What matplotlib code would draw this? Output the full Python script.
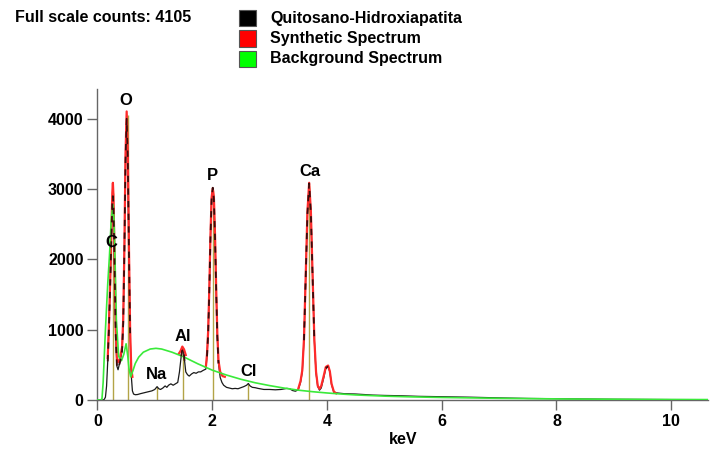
import numpy as np
import matplotlib.pyplot as plt
from matplotlib.patches import Rectangle

plt.rcParams['font.family'] = ['Liberation Sans', 'DejaVu Sans']
plt.rcParams['font.weight'] = 'bold'

# measured spectrum (keV, counts)
spec_kev = [0.00, 0.10, 0.12, 0.14, 0.16, 0.18, 0.20, 0.22, 0.24, 0.26, 0.27, 0.28, 0.30, 0.32,
            0.34, 0.36, 0.38, 0.40, 0.43, 0.45, 0.47, 0.49, 0.51, 0.53, 0.55, 0.57, 0.59, 0.61,
            0.63, 0.66, 0.70, 0.75, 0.80, 0.85, 0.90, 0.95, 1.00, 1.04, 1.07, 1.10, 1.14, 1.18,
            1.21, 1.24, 1.28, 1.32, 1.36, 1.40, 1.43, 1.46, 1.48, 1.50, 1.52, 1.54, 1.57, 1.60,
            1.64, 1.68, 1.72, 1.76, 1.80, 1.84, 1.89, 1.91, 1.93, 1.95, 1.97, 1.99, 2.01, 2.03,
            2.05, 2.07, 2.09, 2.11, 2.14, 2.17, 2.20, 2.25, 2.30, 2.35, 2.40, 2.45, 2.50, 2.55,
            2.60, 2.63, 2.66, 2.70, 2.75, 2.80, 2.90, 3.00, 3.10, 3.20, 3.30, 3.35, 3.40, 3.45,
            3.50, 3.54, 3.57, 3.60, 3.63, 3.66, 3.69, 3.72, 3.75, 3.78, 3.81, 3.84, 3.87, 3.90,
            3.94, 3.98, 4.02, 4.05, 4.08, 4.12, 4.18, 4.30, 4.50, 4.80, 5.00, 5.30, 5.60, 5.90,
            6.20, 6.50, 7.00, 7.50, 8.00, 8.50, 9.00, 9.50, 10.00, 10.65]
spec_counts = [0, 0, 10, 40, 200, 550, 1000, 1550, 2200, 2800, 2900, 2750, 1900, 900,
               480, 430, 500, 560, 700, 1100, 2100, 3400, 4000, 3400, 2100, 950, 350, 130,
               85, 75, 78, 90, 100, 110, 120, 130, 150, 190, 160, 150, 170, 200,
               180, 210, 230, 210, 230, 250, 400, 620, 720, 700, 550, 400, 360, 340,
               370, 390, 380, 400, 400, 420, 440, 620, 950, 1550, 2300, 2850, 3020, 2850,
               2300, 1550, 900, 520, 320, 250, 210, 180, 170, 160, 165, 160, 175, 190,
               210, 235, 200, 180, 175, 165, 150, 150, 145, 150, 165, 160, 135, 125,
               145, 250, 400, 850, 1750, 2650, 3080, 2650, 1750, 850, 380, 190, 140, 170,
               300, 450, 480, 400, 220, 110, 100, 90, 85, 70, 65, 60, 52, 48,
               44, 40, 30, 22, 18, 13, 10, 8, 6, 5]

# synthetic spectrum, only where it rises above the background
synth_kev = [0.18, 0.20, 0.22, 0.24, 0.26, 0.27, 0.28, 0.30, 0.32, 0.34, 0.36, 0.38, 0.40, 0.43,
             0.45, 0.47, 0.49, 0.51, 0.53, 0.55, 0.57, 0.59, 0.61, np.nan,
             1.42, 1.45, 1.48, 1.51, 1.54, np.nan,
             1.89, 1.91, 1.93, 1.95, 1.97, 1.99, 2.01, 2.03, 2.05, 2.07, 2.09, 2.11, 2.14, 2.18,
             2.22, np.nan,
             3.50, 3.54, 3.57, 3.60, 3.63, 3.66, 3.69, 3.72, 3.75, 3.78, 3.81, 3.84, 3.87, 3.90,
             3.94, 3.98, 4.02, 4.05, 4.08, 4.12, 4.16]
synth_counts = [600, 1050, 1600, 2300, 2950, 3090, 2900, 2000, 1000, 580, 540, 560, 620, 750,
                1150, 2150, 3500, 4105, 3500, 2150, 1000, 450, 330, np.nan,
                660, 700, 760, 720, 640, np.nan,
                470, 650, 980, 1580, 2330, 2880, 3010, 2880, 2330, 1580, 930, 560, 400, 340,
                330, np.nan,
                160, 270, 420, 870, 1770, 2680, 3090, 2680, 1770, 870, 400, 200, 160, 200,
                330, 470, 490, 410, 230, 120, 95]

# background
bg_kev = [0.00, 0.06, 0.08, 0.10, 0.14, 0.18, 0.21, 0.24, 0.27, 0.29, 0.31, 0.33, 0.37, 0.42,
          0.46, 0.50, 0.53, 0.55, 0.58, 0.62, 0.66, 0.72, 0.80, 0.92, 1.02, 1.12, 1.30, 1.50,
          1.75, 2.00, 2.25, 2.50, 2.75, 3.00, 3.25, 3.50, 3.75, 4.00, 4.25, 4.50, 5.00, 5.50,
          6.00, 6.50, 7.00, 7.50, 8.00, 8.50, 9.00, 9.50, 10.00, 10.65]
bg_counts = [0, 0, 20, 250, 1000, 1650, 2050, 2550, 2780, 2550, 1900, 1150, 620, 560,
             650, 800, 620, 450, 330, 420, 520, 610, 680, 725, 735, 725, 680, 615,
             515, 425, 355, 295, 245, 205, 170, 140, 118, 100, 85, 72, 55, 44,
             36, 30, 24, 20, 16, 13, 11, 9, 7, 6]

elements = ['C', 'O', 'Na', 'Al', 'P', 'Cl', 'Ca']
element_kev = [0.277, 0.525, 1.041, 1.486, 2.013, 2.622, 3.690]
element_height = [2950, 4050, 185, 730, 2990, 225, 3060]
label_pos = [(0.24, 2245), (0.50, 4255), (1.03, 369), (1.49, 908), (2.01, 3191), (2.63, 401), (3.70, 3252)]

legend_names = ['Quitosano-Hidroxiapatita', 'Synthetic Spectrum', 'Background Spectrum']
legend_colors = ['#000000', '#ff0000', '#00ff00']

W, H = 712, 451
fig = plt.figure(figsize=(W / 100, H / 100), dpi=100)
ax = fig.add_axes([97.4 / W, 1 - 400 / H, (708 - 97.4) / W, 311.4 / H])

spec_kev = np.array(spec_kev)
spec_counts = np.array(spec_counts, dtype=float)

# lines to the element positions
ax.vlines(element_kev, 0, element_height, color='#b3a447', lw=1.0, zorder=1)

ax.plot(spec_kev, spec_counts, color='#1a1a1a', lw=0.9, zorder=2)
ax.plot(synth_kev, synth_counts, color='#ff2a2a', lw=1.6, zorder=3)
ax.plot(bg_kev, bg_counts, color='#3aea3a', lw=1.2, zorder=4)
peaks = np.where((spec_counts >= 450) & (spec_kev < 4.2), spec_counts, np.nan)
ax.plot(spec_kev, peaks, color='#3a0c0c', lw=1.3, linestyle=(0, (3.5, 3.5)), zorder=5)

for el, (x, y) in zip(elements, label_pos):
    ax.text(x, y, el, ha='center', va='center', fontsize=12, fontweight='bold', zorder=6)

ax.set_xlim(0, 10.64)
ax.set_ylim(0, 4430)
ax.set_xticks([0, 2, 4, 6, 8, 10])
ax.set_yticks([0, 1000, 2000, 3000, 4000])
for s in ['top', 'right']:
    ax.spines[s].set_visible(False)
for s in ['left', 'bottom']:
    ax.spines[s].set_color('#666666')
    ax.spines[s].set_linewidth(1.0)
ax.tick_params(axis='both', direction='out', length=7, width=1, color='#666666',
               labelsize=11.5, pad=3)
for lab in ax.get_xticklabels() + ax.get_yticklabels():
    lab.set_fontweight('bold')
ax.set_xlabel('keV', fontsize=11.5, fontweight='bold', labelpad=2)

# header text and legend boxes
fig.text(15 / W, 1 - 18 / H, 'Full scale counts: 4105', fontsize=11.5, fontweight='bold',
         va='center', ha='left')
for i, (name, col) in enumerate(zip(legend_names, legend_colors)):
    yc = 18 + i * 20.5
    fig.patches.append(Rectangle((239 / W, 1 - (yc + 8) / H), 17 / W, 16 / H,
                                 transform=fig.transFigure, facecolor=col,
                                 edgecolor='#555555', lw=0.8))
    fig.text(270 / W, 1 - yc / H, name, fontsize=11.5, fontweight='bold', va='center', ha='left')

fig.savefig('out.png', dpi=100)
